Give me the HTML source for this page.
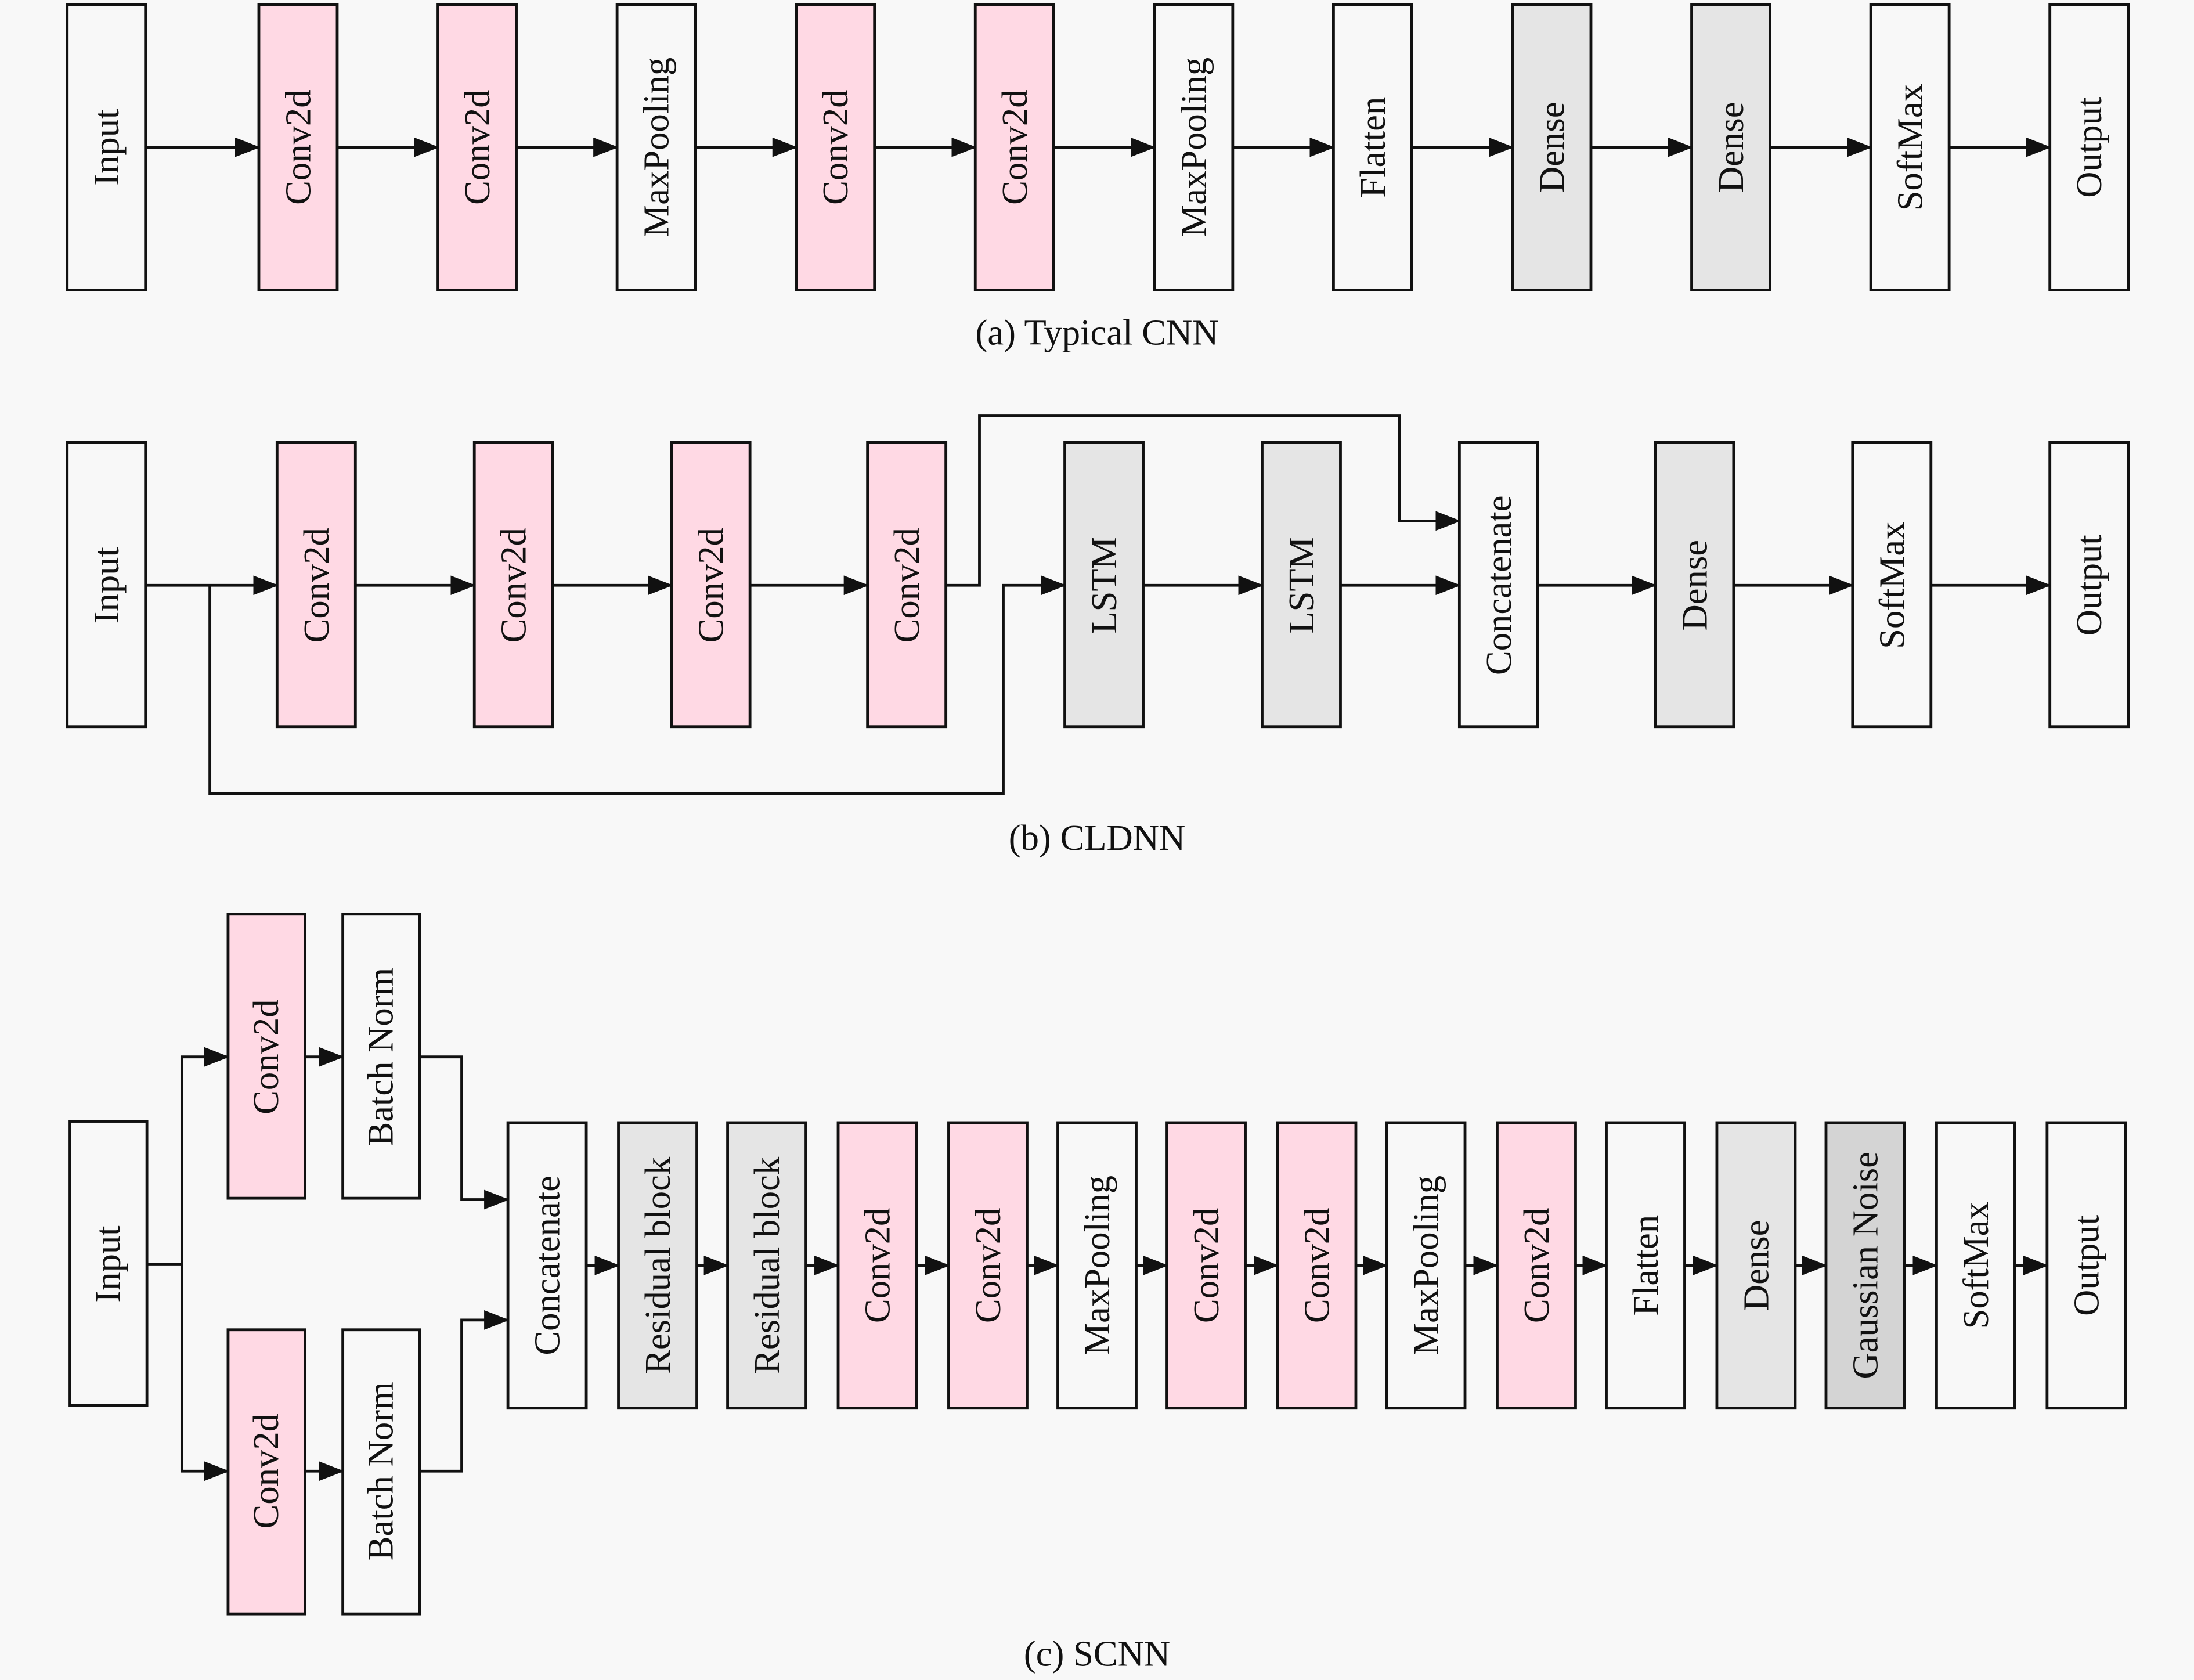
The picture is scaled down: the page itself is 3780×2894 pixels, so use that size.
<!DOCTYPE html>
<html><head><meta charset="utf-8">
<style>
html,body{margin:0;padding:0;background:#f8f8f8;}
svg{display:block;}
text{font-family:"Liberation Serif",serif;font-size:26px;fill:#111;}
.b{stroke:#111;stroke-width:2;}
.w{fill:#f8f8f8;} .p{fill:#ffd9e4;} .g{fill:#e5e5e5;} .d{fill:#d4d4d4;}
.l{fill:none;stroke:#111;stroke-width:2;}
</style></head><body>
<svg width="3780" height="2894" viewBox="0 0 1568 1200" xmlns="http://www.w3.org/2000/svg">
<defs><marker id="a" markerUnits="userSpaceOnUse" markerWidth="18" markerHeight="14" refX="17" refY="7" orient="auto"><path d="M0,0 L18,7 L0,14 z" fill="#111"/></marker></defs>
<rect width="1568" height="1200" fill="#f8f8f8"/>

<!-- Row a -->
<g>
<rect class="b w" x="48" y="3" width="56" height="204"/>
<rect class="b p" x="185" y="3" width="56" height="204"/>
<rect class="b p" x="313" y="3" width="56" height="204"/>
<rect class="b w" x="441" y="3" width="56" height="204"/>
<rect class="b p" x="569" y="3" width="56" height="204"/>
<rect class="b p" x="697" y="3" width="56" height="204"/>
<rect class="b w" x="825" y="3" width="56" height="204"/>
<rect class="b w" x="953" y="3" width="56" height="204"/>
<rect class="b g" x="1081" y="3" width="56" height="204"/>
<rect class="b g" x="1209" y="3" width="56" height="204"/>
<rect class="b w" x="1337" y="3" width="56" height="204"/>
<rect class="b w" x="1465" y="3" width="56" height="204"/>
<path class="l" marker-end="url(#a)" d="M104,105 H185"/>
<path class="l" marker-end="url(#a)" d="M241,105 H313"/>
<path class="l" marker-end="url(#a)" d="M369,105 H441"/>
<path class="l" marker-end="url(#a)" d="M497,105 H569"/>
<path class="l" marker-end="url(#a)" d="M625,105 H697"/>
<path class="l" marker-end="url(#a)" d="M753,105 H825"/>
<path class="l" marker-end="url(#a)" d="M881,105 H953"/>
<path class="l" marker-end="url(#a)" d="M1009,105 H1081"/>
<path class="l" marker-end="url(#a)" d="M1137,105 H1209"/>
<path class="l" marker-end="url(#a)" d="M1265,105 H1337"/>
<path class="l" marker-end="url(#a)" d="M1393,105 H1465"/>
<g text-anchor="middle" dominant-baseline="central">
<text transform="translate(76,105) rotate(-90)">Input</text>
<text transform="translate(213,105) rotate(-90)">Conv2d</text>
<text transform="translate(341,105) rotate(-90)">Conv2d</text>
<text transform="translate(469,105) rotate(-90)">MaxPooling</text>
<text transform="translate(597,105) rotate(-90)">Conv2d</text>
<text transform="translate(725,105) rotate(-90)">Conv2d</text>
<text transform="translate(853,105) rotate(-90)">MaxPooling</text>
<text transform="translate(981,105) rotate(-90)">Flatten</text>
<text transform="translate(1109,105) rotate(-90)">Dense</text>
<text transform="translate(1237,105) rotate(-90)">Dense</text>
<text transform="translate(1365,105) rotate(-90)">SoftMax</text>
<text transform="translate(1493,105) rotate(-90)">Output</text>
</g>
<text x="784" y="246" text-anchor="middle">(a) Typical CNN</text>
</g>

<!-- Row b -->
<g>
<rect class="b w" x="48" y="316" width="56" height="203"/>
<rect class="b p" x="198" y="316" width="56" height="203"/>
<rect class="b p" x="339" y="316" width="56" height="203"/>
<rect class="b p" x="480" y="316" width="56" height="203"/>
<rect class="b p" x="620" y="316" width="56" height="203"/>
<rect class="b g" x="761" y="316" width="56" height="203"/>
<rect class="b g" x="902" y="316" width="56" height="203"/>
<rect class="b w" x="1043" y="316" width="56" height="203"/>
<rect class="b g" x="1183" y="316" width="56" height="203"/>
<rect class="b w" x="1324" y="316" width="56" height="203"/>
<rect class="b w" x="1465" y="316" width="56" height="203"/>
<path class="l" marker-end="url(#a)" d="M104,418 H198"/>
<path class="l" marker-end="url(#a)" d="M254,418 H339"/>
<path class="l" marker-end="url(#a)" d="M395,418 H480"/>
<path class="l" marker-end="url(#a)" d="M536,418 H620"/>
<path class="l" marker-end="url(#a)" d="M150,418 V567 H717 V418 H761"/>
<path class="l" marker-end="url(#a)" d="M676,418 H700 V297 H1000 V372 H1043"/>
<path class="l" marker-end="url(#a)" d="M817,418 H902"/>
<path class="l" marker-end="url(#a)" d="M958,418 H1043"/>
<path class="l" marker-end="url(#a)" d="M1099,418 H1183"/>
<path class="l" marker-end="url(#a)" d="M1239,418 H1324"/>
<path class="l" marker-end="url(#a)" d="M1380,418 H1465"/>
<g text-anchor="middle" dominant-baseline="central">
<text transform="translate(76,418) rotate(-90)">Input</text>
<text transform="translate(226,418) rotate(-90)">Conv2d</text>
<text transform="translate(367,418) rotate(-90)">Conv2d</text>
<text transform="translate(508,418) rotate(-90)">Conv2d</text>
<text transform="translate(648,418) rotate(-90)">Conv2d</text>
<text transform="translate(789,418) rotate(-90)">LSTM</text>
<text transform="translate(930,418) rotate(-90)">LSTM</text>
<text transform="translate(1071,418) rotate(-90)">Concatenate</text>
<text transform="translate(1211,418) rotate(-90)">Dense</text>
<text transform="translate(1352,418) rotate(-90)">SoftMax</text>
<text transform="translate(1493,418) rotate(-90)">Output</text>
</g>
<text x="784" y="607" text-anchor="middle">(b) CLDNN</text>
</g>

<!-- Row c -->
<g>
<rect class="b w" x="50" y="801" width="55" height="203"/>
<rect class="b p" x="163" y="653" width="55" height="203"/>
<rect class="b w" x="245" y="653" width="55" height="203"/>
<rect class="b p" x="163" y="950" width="55" height="203"/>
<rect class="b w" x="245" y="950" width="55" height="203"/>
<rect class="b w" x="363" y="802" width="56" height="204"/>
<rect class="b g" x="442" y="802" width="56" height="204"/>
<rect class="b g" x="520" y="802" width="56" height="204"/>
<rect class="b p" x="599" y="802" width="56" height="204"/>
<rect class="b p" x="678" y="802" width="56" height="204"/>
<rect class="b w" x="756" y="802" width="56" height="204"/>
<rect class="b p" x="834" y="802" width="56" height="204"/>
<rect class="b p" x="913" y="802" width="56" height="204"/>
<rect class="b w" x="991" y="802" width="56" height="204"/>
<rect class="b p" x="1070" y="802" width="56" height="204"/>
<rect class="b w" x="1148" y="802" width="56" height="204"/>
<rect class="b g" x="1227" y="802" width="56" height="204"/>
<rect class="b d" x="1305" y="802" width="56" height="204"/>
<rect class="b w" x="1384" y="802" width="56" height="204"/>
<rect class="b w" x="1463" y="802" width="56" height="204"/>
<path class="l" d="M105,903 H130"/>
<path class="l" marker-end="url(#a)" d="M130,903 V755 H163"/>
<path class="l" marker-end="url(#a)" d="M130,903 V1051 H163"/>
<path class="l" marker-end="url(#a)" d="M218,755 H245"/>
<path class="l" marker-end="url(#a)" d="M218,1051 H245"/>
<path class="l" marker-end="url(#a)" d="M300,755 H330 V857 H363"/>
<path class="l" marker-end="url(#a)" d="M300,1051 H330 V943 H363"/>
<path class="l" marker-end="url(#a)" d="M419,904 H442"/>
<path class="l" marker-end="url(#a)" d="M498,904 H520"/>
<path class="l" marker-end="url(#a)" d="M576,904 H599"/>
<path class="l" marker-end="url(#a)" d="M655,904 H678"/>
<path class="l" marker-end="url(#a)" d="M734,904 H756"/>
<path class="l" marker-end="url(#a)" d="M812,904 H834"/>
<path class="l" marker-end="url(#a)" d="M890,904 H913"/>
<path class="l" marker-end="url(#a)" d="M969,904 H991"/>
<path class="l" marker-end="url(#a)" d="M1047,904 H1070"/>
<path class="l" marker-end="url(#a)" d="M1126,904 H1148"/>
<path class="l" marker-end="url(#a)" d="M1204,904 H1227"/>
<path class="l" marker-end="url(#a)" d="M1283,904 H1305"/>
<path class="l" marker-end="url(#a)" d="M1361,904 H1384"/>
<path class="l" marker-end="url(#a)" d="M1440,904 H1463"/>
<g text-anchor="middle" dominant-baseline="central">
<text transform="translate(77,903) rotate(-90)">Input</text>
<text transform="translate(190,755) rotate(-90)">Conv2d</text>
<text transform="translate(272,755) rotate(-90)">Batch Norm</text>
<text transform="translate(190,1051) rotate(-90)">Conv2d</text>
<text transform="translate(272,1051) rotate(-90)">Batch Norm</text>
<text transform="translate(391,904) rotate(-90)">Concatenate</text>
<text transform="translate(470,904) rotate(-90)">Residual block</text>
<text transform="translate(548,904) rotate(-90)">Residual block</text>
<text transform="translate(627,904) rotate(-90)">Conv2d</text>
<text transform="translate(706,904) rotate(-90)">Conv2d</text>
<text transform="translate(784,904) rotate(-90)">MaxPooling</text>
<text transform="translate(862,904) rotate(-90)">Conv2d</text>
<text transform="translate(941,904) rotate(-90)">Conv2d</text>
<text transform="translate(1019,904) rotate(-90)">MaxPooling</text>
<text transform="translate(1098,904) rotate(-90)">Conv2d</text>
<text transform="translate(1176,904) rotate(-90)">Flatten</text>
<text transform="translate(1255,904) rotate(-90)">Dense</text>
<text transform="translate(1333,904) rotate(-90)">Gaussian Noise</text>
<text transform="translate(1412,904) rotate(-90)">SoftMax</text>
<text transform="translate(1491,904) rotate(-90)">Output</text>
</g>
<text x="784" y="1190" text-anchor="middle">(c) SCNN</text>
</g>
</svg>
</body></html>
